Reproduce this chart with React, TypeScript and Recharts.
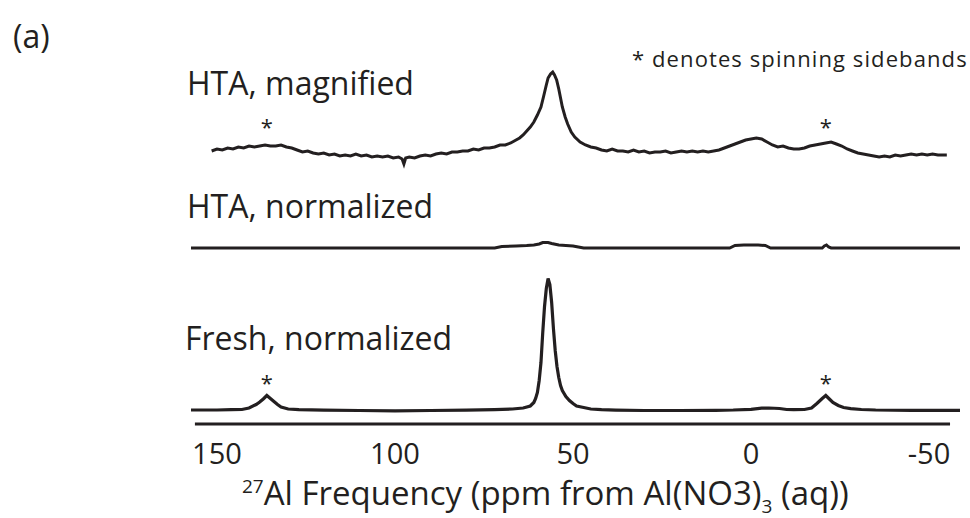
import React from "react";
import { LineChart, Line, XAxis, YAxis, ReferenceLine, ReferenceDot } from "recharts";

const FONT = "'Open Sans', sans-serif";
const INK = "#231f20";

const freshPpm = [
  157.3, 150, 146, 143, 141, 139, 138, 137, 136, 135, 134, 133, 132, 130, 127, 120, 110, 100, 90,
  80, 72, 67, 64, 62, 61, 60.5, 60, 59.5, 59, 58.5, 58, 57.5, 57, 56.5, 56, 55.5, 55, 54.5, 54,
  53.5, 53, 52, 51, 50, 49, 47, 45, 42, 38, 30, 20, 10, 5, 0, -3, -5, -8, -10, -12, -15, -17,
  -18.5, -20, -21, -22, -23, -24.5, -26, -28, -31, -35, -45, -58.7,
];
const freshInt = [
  0.5, 0.5, 0.8, 1, 2.5, 6, 8.5, 11.5, 15, 12, 9, 6, 3.5, 1.5, 0.8, 0.3, 0, -0.3, 0,
  0.3, 0.8, 1.5, 2.5, 4.5, 8, 12, 18, 30, 48, 78, 104, 122, 132, 126, 108, 82, 60, 44, 33,
  25, 20, 14, 10, 7, 4.5, 3, 1.5, 0.8, 0.4, 0, 0, 0.2, 0.5, 1.2, 2.3, 2.5, 2, 1, 0.8, 1, 2.5,
  7, 12, 15, 11.5, 8, 5, 3, 1.8, 1, 0.5, 0.2, 0.2,
];

const htaNormPpm = [
  157.3, 120, 72, 70, 66, 63, 61, 59.5, 58.5, 57, 56, 54, 52, 50, 48.5, 47, 20, 6, 4.5, 2, -2,
  -4, -5.5, -20, -20.6, -21.2, -21.8, -22.5, -58.7,
];
const htaNormInt = [
  0, 0, 0, 1.5, 2, 2.5, 3, 4, 5.5, 5.5, 4.5, 3, 2.5, 2, 1, 0, 0, 0, 2.5, 3, 3,
  2.5, 0, 0, 2, 3, 1, 0, 0,
];

const htaMagPpm = [
  151.5, 150, 148.5, 147, 145.5, 144, 142.5, 141, 139.5, 138, 136.5, 135, 133.5, 132, 130.5, 129,
  127.5, 126, 124.5, 123, 121.5, 120, 118.5, 117, 115.5, 114, 112.5, 111, 109.5, 108, 106.5, 105,
  103.5, 102, 100.5, 99, 98, 97.5, 97, 96, 94.5, 93, 91.5, 90, 88.5, 87, 85.5, 84, 82.5, 81, 79.5,
  78, 76.5, 75, 73.5, 72, 70.5, 69, 67.5, 66, 65, 64, 63, 62, 61, 60, 59, 58.3, 57.5, 57, 56.3,
  55.7, 55.2, 54.6, 54, 53.5, 53, 52.2, 51.5, 50.5, 49.5, 48, 46.5, 45, 43.5, 42, 40.5, 39, 37.5,
  36, 34.5, 33, 31.5, 30, 28.5, 27, 25.5, 24, 22.5, 21, 19.5, 18, 16.5, 15, 13.5, 12, 10.5, 9, 7.5,
  6, 4.5, 3, 1.5, 0, -1.5, -3, -4.5, -6, -7.5, -9, -10.5, -12, -13.5, -15, -16.5, -18, -19.5, -21,
  -22.5, -24, -25.5, -27, -28.5, -30, -31.5, -33, -34.5, -36, -37.5, -39, -40.5, -42, -43.5, -45,
  -46.5, -48, -49.5, -51, -52.5, -54, -55,
];
const htaMagInt = [
  4, 6, 5, 7, 6, 8, 7, 9, 8, 9, 10, 9, 9, 10, 8, 7,
  5, 3, 4, 2, 1, 2, 0, 1, -1, 0, -1, 1, -1, 0, -2, -1,
  -2, -1, -3, -2, -4, -9, -3, -2, -3, -1, 0, -1, 1, 2, 1, 3, 3, 4, 4,
  6, 5, 7, 7, 8, 10, 10, 12, 15, 17, 20, 24, 28, 33, 40, 48, 58, 70, 77, 81,
  83, 80, 75, 66, 57, 48, 38, 31, 23, 18, 13, 10, 8, 7, 5, 4, 6, 4,
  4, 3, 5, 3, 4, 2, 3, 3, 4, 2, 3, 4, 3, 4, 3, 4, 3, 4, 5, 7,
  9, 11, 13, 15, 16, 17, 16, 13, 10, 8, 9, 7, 6, 6, 7, 9, 10, 11, 12,
  13, 11, 9, 6, 4, 2, 1, 0, -1, -2, -1, -2, 0, -1, 0, 1,
  0, 1, 0, 1, 0, 0, 0,
];

const xTicks = [150, 100, 50, 0, -50];
const sidebands = [136, -21];

// vertical stacking of the three traces (chart units = px above the axis)
const FRESH_BASE = 13.5;
const NORM_BASE = 176;
const MAG_BASE = 269;

const rows = (ppm: number[], val: number[], base: number) =>
  ppm.map((p, i) => ({ ppm: p, y: val[i] + base }));

const freshData = rows(freshPpm, freshInt, FRESH_BASE);
const normData = rows(htaNormPpm, htaNormInt, NORM_BASE);
const magData = rows(htaMagPpm, htaMagInt, MAG_BASE);

const starLabel = (offset: number) => ({
  value: "*",
  position: "top" as const,
  offset,
  fontSize: 22,
  fill: INK,
  fontFamily: FONT,
});

export default function App() {
  return (
    <div style={{ position: "absolute", top: 0, left: 0, width: 970, height: 518, background: "#fff", overflow: "hidden" }}>
      <LineChart width={970} height={518} margin={{ top: 0, right: 10, left: 191, bottom: 0 }}>
        <XAxis
          dataKey="ppm"
          type="number"
          domain={[-58.7, 157.3]}
          reversed
          allowDataOverflow
          ticks={xTicks}
          height={94}
          axisLine={false}
          tickLine={false}
          tickMargin={13}
          tick={{ fontSize: 29, fill: INK, fontFamily: FONT }}
        />
        <YAxis type="number" domain={[0, 424]} allowDataOverflow hide />
        <ReferenceLine
          segment={[{ x: 156.2, y: 0 }, { x: -55.9, y: 0 }]}
          stroke={INK}
          strokeWidth={3}
        />
        <Line data={magData} dataKey="y" type="linear" stroke={INK} strokeWidth={3} dot={false} isAnimationActive={false} />
        <Line data={normData} dataKey="y" type="linear" stroke={INK} strokeWidth={3} dot={false} isAnimationActive={false} />
        <Line data={freshData} dataKey="y" type="linear" stroke={INK} strokeWidth={3.2} dot={false} isAnimationActive={false} />
        {sidebands.map((p) => (
          <ReferenceDot key={"m" + p} x={p} y={MAG_BASE + 10} r={0} fill="none" stroke="none" label={starLabel(10)} />
        ))}
        {sidebands.map((p) => (
          <ReferenceDot key={"f" + p} x={p} y={FRESH_BASE + 15} r={0} fill="none" stroke="none" label={starLabel(5)} />
        ))}
      </LineChart>
      <svg width={970} height={518} style={{ position: "absolute", top: 0, left: 0, pointerEvents: "none" }}>
        <g fontFamily={FONT} fill={INK}>
          <text x={13} y={48} fontSize={32}>(a)</text>
          <text x={187} y={95} fontSize={32}>HTA, magnified</text>
          <text x={187} y={218} fontSize={32}>HTA, normalized</text>
          <text x={185} y={350} fontSize={32}>Fresh, normalized</text>
          <text x={632} y={67} fontSize={22} letterSpacing={1.1}>* denotes spinning sidebands</text>
          <text x={242} y={505} fontSize={33}>
            <tspan fontSize={19} dy={-12}>27</tspan>
            <tspan dy={12}>Al Frequency (ppm from Al(NO3)</tspan>
            <tspan fontSize={19} dy={8}>3</tspan>
            <tspan dy={-8}> (aq))</tspan>
          </text>
        </g>
      </svg>
    </div>
  );
}
